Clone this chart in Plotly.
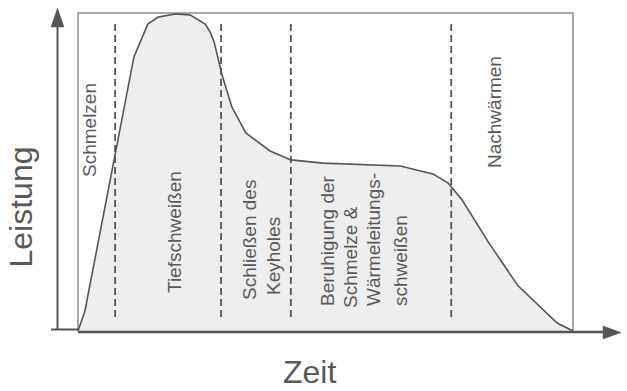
import plotly.graph_objects as go

# ---- data (time and power in arbitrary units, 0..100) ----
time = [0, 1.4, 11.3, 14.1, 16.2, 19.6, 22.6, 25.7, 26.7, 27.5, 29.1, 31.1,
        33.9, 38.8, 43.0, 49.5, 65.1, 71.7, 74.8, 77.6, 83.0, 88.9, 96.8, 100]
power = [0, 6.3, 86.2, 96.5, 98.7, 99.7, 99.4, 96.5, 94.0, 90.9, 80.5, 70.4,
         62.3, 56.6, 53.8, 52.8, 51.9, 49.4, 46.5, 41.2, 27.7, 14.2, 2.5, 0]
phase_bounds = [7.5, 28.9, 43.0, 75.4]
phase_texts = ["Schmelzen", "Tiefschweißen", "Schließen des", "Keyholes",
               "Beruhigung der", "Schmelze &", "Wärmeleitungs-", "schweißen",
               "Nachwärmen"]
y_title = "Leistung"
x_title = "Zeit"

# ---- layout helpers (pixel -> paper) ----
W, H = 627, 391
L, R, T, B = 78, 573, 13, 331


def fx(px):
    return (px - L) / (R - L)


def fy(py):
    return (B - py) / (B - T)


DARK = "#555555"
TXT = "#595959"
FONT = "Liberation Sans, Arial, sans-serif"

fig = go.Figure(go.Scatter(
    x=time, y=power, mode="lines",
    line=dict(color=DARK, width=1.6),
    fill="tozeroy", fillcolor="#eeeeee", hoverinfo="skip"))

shapes = []
# plot box
shapes.append(dict(type="rect", xref="paper", yref="paper", x0=0, y0=0, x1=1, y1=1,
                   line=dict(color="#8c8c8c", width=1.5), layer="below"))
# phase boundaries
for b in phase_bounds:
    shapes.append(dict(type="line", xref="x", yref="y", x0=b, x1=b, y0=4.4, y1=96.9,
                       line=dict(color=DARK, width=1.8, dash="7px,4px")))
# x axis with arrow
shapes.append(dict(type="line", xref="paper", yref="paper",
                   x0=fx(78), x1=fx(606), y0=fy(332), y1=fy(332),
                   line=dict(color=DARK, width=2.5)))
shapes.append(dict(type="path", xref="paper", yref="paper",
                   path=f"M {fx(603)} {fy(326)} L {fx(621)} {fy(332.5)} L {fx(603)} {fy(339)} Z",
                   fillcolor=DARK, line=dict(color=DARK, width=0.5)))
# y axis with arrow
shapes.append(dict(type="line", xref="paper", yref="paper",
                   x0=fx(57.5), x1=fx(57.5), y0=fy(329.5), y1=fy(24),
                   line=dict(color=DARK, width=2)))
shapes.append(dict(type="path", xref="paper", yref="paper",
                   path=f"M {fx(51)} {fy(27)} L {fx(57.5)} {fy(8)} L {fx(64)} {fy(27)} Z",
                   fillcolor=DARK, line=dict(color=DARK, width=0.5)))
shapes.append(dict(type="line", xref="paper", yref="paper",
                   x0=fx(51), x1=fx(78), y0=fy(329.5), y1=fy(329.5),
                   line=dict(color=DARK, width=2)))

# label centres in pixels
label_pos = [(89, 130), (174, 232), (250, 240), (274, 256),
             (327, 241), (350, 257), (374, 240), (400, 261), (494, 112)]
annotations = []
for t, (cx, cy) in zip(phase_texts, label_pos):
    annotations.append(dict(text=t, xref="paper", yref="paper", x=fx(cx), y=fy(cy),
                            xanchor="center", yanchor="middle", textangle=-90,
                            showarrow=False, font=dict(family=FONT, size=19, color=TXT)))
annotations.append(dict(text=y_title, xref="paper", yref="paper", x=fx(20), y=fy(207.5),
                        xanchor="center", yanchor="middle", textangle=-90,
                        showarrow=False, font=dict(family=FONT, size=32, color=TXT)))
annotations.append(dict(text=x_title, xref="paper", yref="paper", x=fx(309), y=fy(372),
                        xanchor="center", yanchor="middle",
                        showarrow=False, font=dict(family=FONT, size=32, color=TXT)))

fig.update_layout(
    width=W, height=H, autosize=False,
    margin=dict(l=L, r=W - R, t=T, b=H - B, pad=0),
    paper_bgcolor="white", plot_bgcolor="white",
    showlegend=False,
    xaxis=dict(range=[0, 100], visible=False, fixedrange=True),
    yaxis=dict(range=[0, 100], visible=False, fixedrange=True),
    shapes=shapes, annotations=annotations,
)

fig.write_html("out.html")
